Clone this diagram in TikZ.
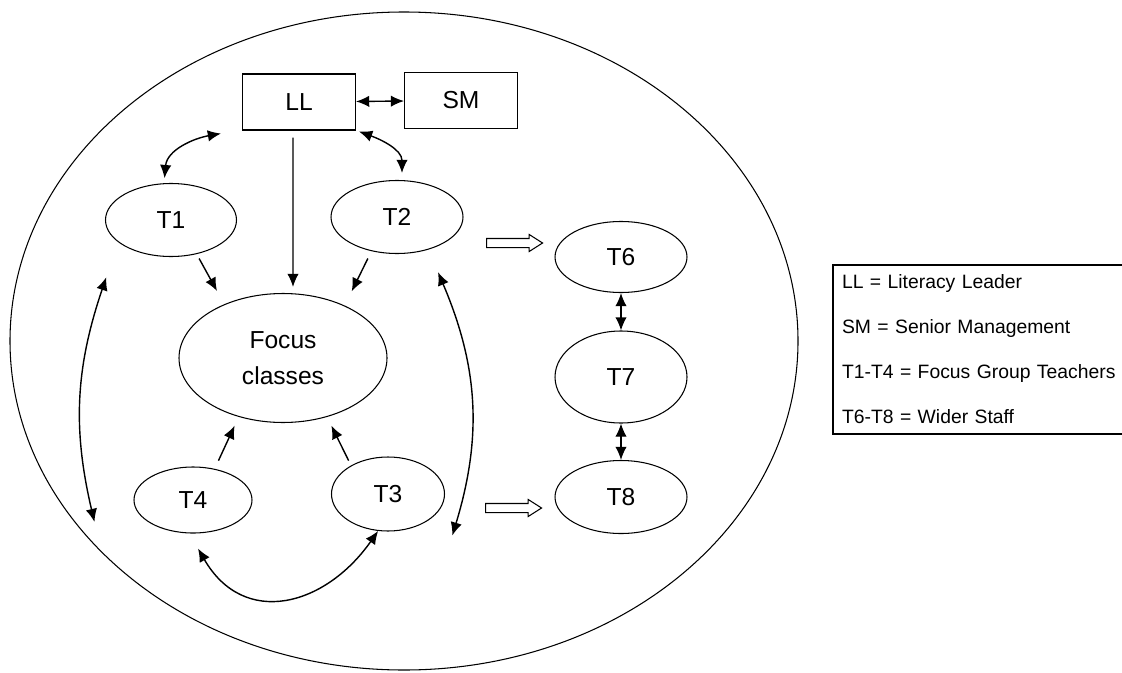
\documentclass[tikz,border=0pt]{standalone}
\usepackage{fontspec}
\setmainfont{Liberation Sans}
\usetikzlibrary{arrows.meta,shapes.geometric,shapes.arrows}

\begin{document}
\begin{tikzpicture}[
    box/.style={rectangle, draw, line width=0.6pt, minimum width=2.26cm, minimum height=1.12cm, font=\fontsize{14}{17}\selectfont},
    staff/.style={ellipse, draw, line width=0.6pt, inner sep=0pt, minimum width=2.64cm, minimum height=1.46cm, font=\fontsize{14}{17}\selectfont},
    arrow/.style={-{Latex[length=7.5pt,width=6.5pt]}, line width=0.8pt},
    dblarrow/.style={{Latex[length=7.5pt,width=6.5pt]}-{Latex[length=7.5pt,width=6.5pt]}, line width=0.8pt},
    spread/.style={single arrow, draw, line width=0.6pt, minimum height=1.12cm, inner xsep=0pt, inner ysep=0.08cm, single arrow head extend=0.08cm, single arrow tip angle=65},
    legend/.style={rectangle, draw, line width=0.6pt, minimum width=5.94cm, minimum height=3.38cm, text width=5.58cm, inner xsep=0.18cm, align=left, font=\fontsize{11}{25.6}\selectfont}
]
    \useasboundingbox (0,0) rectangle (22.44,13.44);

    % School boundary
    \draw[line width=0.6pt] (8.08,6.62) ellipse [x radius=7.88cm, y radius=6.58cm];

    % Leadership
    \node[box] (ll) at (5.98,11.40) {LL};
    \node[box] (sm) at (9.22,11.43) {SM};

    % Focus group
    \node[staff, minimum width=2.62cm] (t1) at (3.42,9.04) {T1};
    \node[staff] (t2) at (7.94,9.10) {T2};
    \node[staff, minimum width=4.16cm, minimum height=2.58cm, align=center, font=\fontsize{14}{20.4}\selectfont] (focus) at (5.66,6.28) {Focus\\classes};
    \node[staff, minimum width=2.36cm, minimum height=1.32cm] (t4) at (3.86,3.44) {T4};
    \node[staff, minimum width=2.26cm, minimum height=1.48cm] (t3) at (7.76,3.56) {T3};

    % Wider staff
    \node[staff, minimum height=1.42cm] (t6) at (12.42,8.30) {T6};
    \node[staff, minimum height=1.84cm] (t7) at (12.42,5.90) {T7};
    \node[staff] (t8) at (12.42,3.50) {T8};

    % Spreading out
    \node[spread] (out1) at (10.22,8.58) {};
    \node[spread] (out2) at (10.20,3.28) {};

    % Key
    \node[legend] (key) at (19.63,6.45) {LL = Literacy Leader\\SM = Senior Management\\T1-T4 = Focus Group Teachers\\T6-T8 = Wider Staff};

    % Arrows
    \draw[dblarrow] (ll) -- (sm);
    \draw[dblarrow] ([xshift=-0.42cm,yshift=-0.06cm]ll.south west) to[out=190, in=85] ([yshift=0.1cm]t1.100);
    \draw[dblarrow] ([xshift=0.06cm,yshift=-0.02cm]ll.south east) to[out=-20, in=90] ([xshift=0.1cm,yshift=0.14cm]t2.north);
    \draw[arrow] ([xshift=-0.12cm,yshift=-0.14cm]ll.south) -- ([xshift=0.2cm,yshift=0.12cm]focus.north);
    \draw[arrow] ([yshift=-0.1cm]t1.-50) -- ([xshift=-1.32cm,yshift=0.04cm]focus.north);
    \draw[arrow] ([xshift=-0.1cm,yshift=-0.14cm]t2.-125) -- ([xshift=0.27cm,yshift=0.23cm]focus.45);
    \draw[arrow] ([yshift=0.18cm]t4.50) -- ([yshift=-0.2cm]focus.-130);
    \draw[arrow] ([xshift=-0.16cm,yshift=0.04cm]t3.135) -- ([yshift=-0.2cm]focus.-50);
    \draw[dblarrow] ([xshift=-0.36cm,yshift=-0.62cm]t1.south west) to[bend right=16] ([xshift=-0.78cm,yshift=-0.44cm]t4.west);
    \draw[dblarrow] ([xshift=-0.12cm,yshift=-0.58cm]t2.south east) to[bend left=20] ([xshift=0.48cm,yshift=-0.3cm]t3.south east);
    \draw[dblarrow] ([xshift=0.1cm,yshift=-0.3cm]t4.south) to[out=-60, in=-125, looseness=1.3] (t3.255);
    \draw[dblarrow] (t6) -- (t7);
    \draw[dblarrow] (t7) -- (t8);
\end{tikzpicture}
\end{document}
